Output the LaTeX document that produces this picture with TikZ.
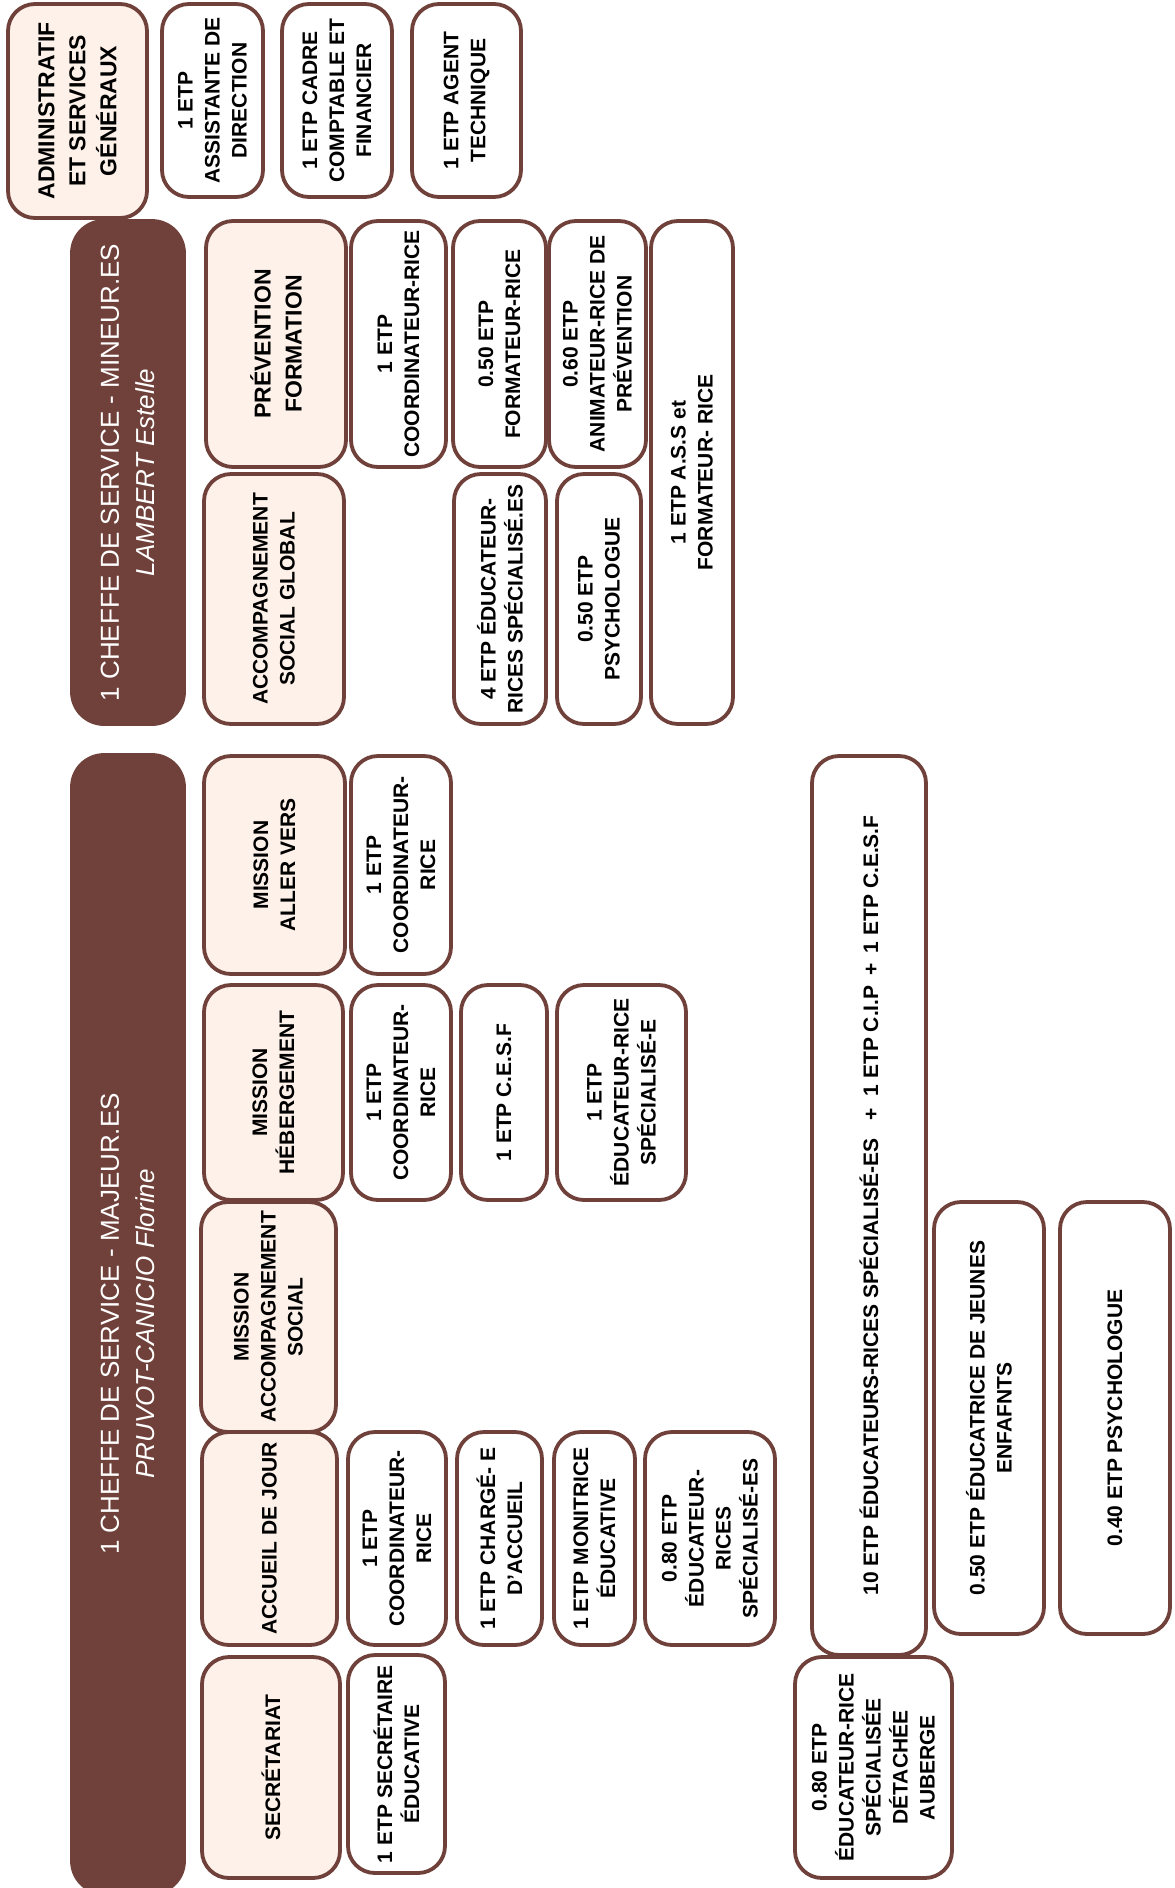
\documentclass[tikz,border=0pt]{standalone}
\usepackage{fontspec}
\setmainfont{Liberation Sans}
\definecolor{brn}{RGB}{111,65,58}
\definecolor{peach}{RGB}{253,241,233}
\newcommand{\OBox}[7]{%
  \pgfmathsetmacro{\obcx}{(#3+#5)/2}%
  \pgfmathsetmacro{\obcy}{(#4+#6)/2}%
  \pgfmathsetmacro{\obw}{#5-#3}%
  \pgfmathsetmacro{\obh}{#6-#4}%
  \node[#1, rotate=90, minimum width=\obh pt, minimum height=\obw pt] (#2) at (\obcx,\obcy) {#7};%
}
\tikzset{
  basebox/.style={draw=brn, line width=3.8pt, rounded corners=27pt, align=center, inner sep=2pt,
    font=\bfseries\fontsize{21}{27}\selectfont},
  wbox/.style={basebox, fill=white},
  pbox/.style={basebox, fill=peach},
  bigp/.style={pbox, font=\bfseries\fontsize{23}{31}\selectfont},
  banner/.style={basebox, fill=brn, text=white, rounded corners=32pt,
    font=\fontsize{26}{36}\selectfont},
}
\begin{document}
\begin{tikzpicture}[x=1pt,y=-1pt]
\useasboundingbox (0,0) rectangle (1175,1888);
% ---------- Administratif ----------
\OBox{bigp}{adm}{8}{4}{147}{218}{ADMINISTRATIF\\ET SERVICES\\GÉNÉRAUX}
\OBox{wbox}{ast}{162}{4}{263}{197}{1 ETP\\ASSISTANTE DE\\DIRECTION}
\OBox{wbox}{cad}{282}{4}{392}{197}{1 ETP CADRE\\COMPTABLE ET\\FINANCIER}
\OBox{wbox}{agt}{412}{4}{521}{197}{1 ETP AGENT\\TECHNIQUE}
% ---------- Mineur.es ----------
\OBox{banner}{minb}{72}{221}{184}{724}{1 CHEFFE DE SERVICE - MINEUR.ES\\\textit{LAMBERT Estelle}}
\OBox{bigp}{prev}{206}{221}{346}{467}{PRÉVENTION\\FORMATION}
\OBox{pbox}{asg}{204}{474}{344}{724}{ACCOMPAGNEMENT\\SOCIAL GLOBAL}
\OBox{wbox}{mco}{351}{221}{446}{467}{1 ETP\\COORDINATEUR-RICE}
\OBox{wbox}{mfo}{453}{221}{546}{467}{0.50 ETP\\FORMATEUR-RICE}
\OBox{wbox}{man}{549}{221}{646}{467}{0.60 ETP\\ANIMATEUR-RICE DE\\PRÉVENTION}
\OBox{wbox}{med}{454}{474}{546}{724}{4 ETP ÉDUCATEUR-\\RICES SPÉCIALISÉ.ES}
\OBox{wbox}{mps}{557}{474}{641}{724}{0.50 ETP\\PSYCHOLOGUE}
\OBox{wbox}{mas}{651}{221}{733}{724}{1 ETP A.S.S et\\FORMATEUR- RICE}
% ---------- Majeur.es ----------
\OBox{banner}{majb}{72}{755}{184}{1893}{1 CHEFFE DE SERVICE - MAJEUR.ES\\\textit{PRUVOT-CANICIO Florine}}
\OBox{pbox}{alv}{204}{756}{345}{974}{MISSION\\ALLER VERS}
\OBox{wbox}{alc}{351}{756}{451}{974}{1 ETP\\COORDINATEUR-\\RICE}
\OBox{pbox}{heb}{204}{985}{343}{1200}{MISSION\\HÉBERGEMENT}
\OBox{wbox}{hco}{351}{985}{451}{1200}{1 ETP\\COORDINATEUR-\\RICE}
\OBox{wbox}{hce}{461}{985}{547}{1200}{1 ETP C.E.S.F}
\OBox{wbox}{hed}{557}{985}{686}{1200}{1 ETP\\ÉDUCATEUR-RICE\\SPÉCIALISÉ-E}
\OBox{pbox}{mac}{201}{1202}{336}{1432}{MISSION\\ACCOMPAGNEMENT\\SOCIAL}
\OBox{pbox}{adj}{202}{1432}{337}{1645}{ACCUEIL DE JOUR}
\OBox{wbox}{aco}{348}{1432}{446}{1645}{1 ETP\\COORDINATEUR-\\RICE}
\OBox{wbox}{ach}{457}{1432}{542}{1645}{1 ETP CHARGÉ- E\\D’ACCUEIL}
\OBox{wbox}{amo}{554}{1432}{635}{1645}{1 ETP MONITRICE\\ÉDUCATIVE}
\OBox{wbox}{aed}{645}{1432}{775}{1645}{0.80 ETP\\ÉDUCATEUR-\\RICES\\SPÉCIALISÉ-ES}
\OBox{pbox}{sec}{202}{1657}{340}{1878}{SECRÉTARIAT}
\OBox{wbox}{sse}{348}{1655}{445}{1873}{1 ETP SECRÉTAIRE\\ÉDUCATIVE}
\OBox{wbox}{ten}{812}{756}{926}{1655}{10 ETP ÉDUCATEURS-RICES SPÉCIALISÉ-ES\hspace{18pt}+\hspace{12pt}1 ETP C.I.P\hspace{10pt}+\hspace{10pt}1 ETP C.E.S.F}
\OBox{wbox}{eje}{934}{1202}{1044}{1634}{0.50 ETP ÉDUCATRICE DE JEUNES\\ENFAFNTS}
\OBox{wbox}{psy}{1060}{1202}{1170}{1634}{0.40 ETP PSYCHOLOGUE}
\OBox{wbox}{aub}{795}{1657}{952}{1878}{0.80 ETP\\ÉDUCATEUR-RICE\\SPÉCIALISÉE\\DÉTACHÉE\\AUBERGE}
\end{tikzpicture}
\end{document}
